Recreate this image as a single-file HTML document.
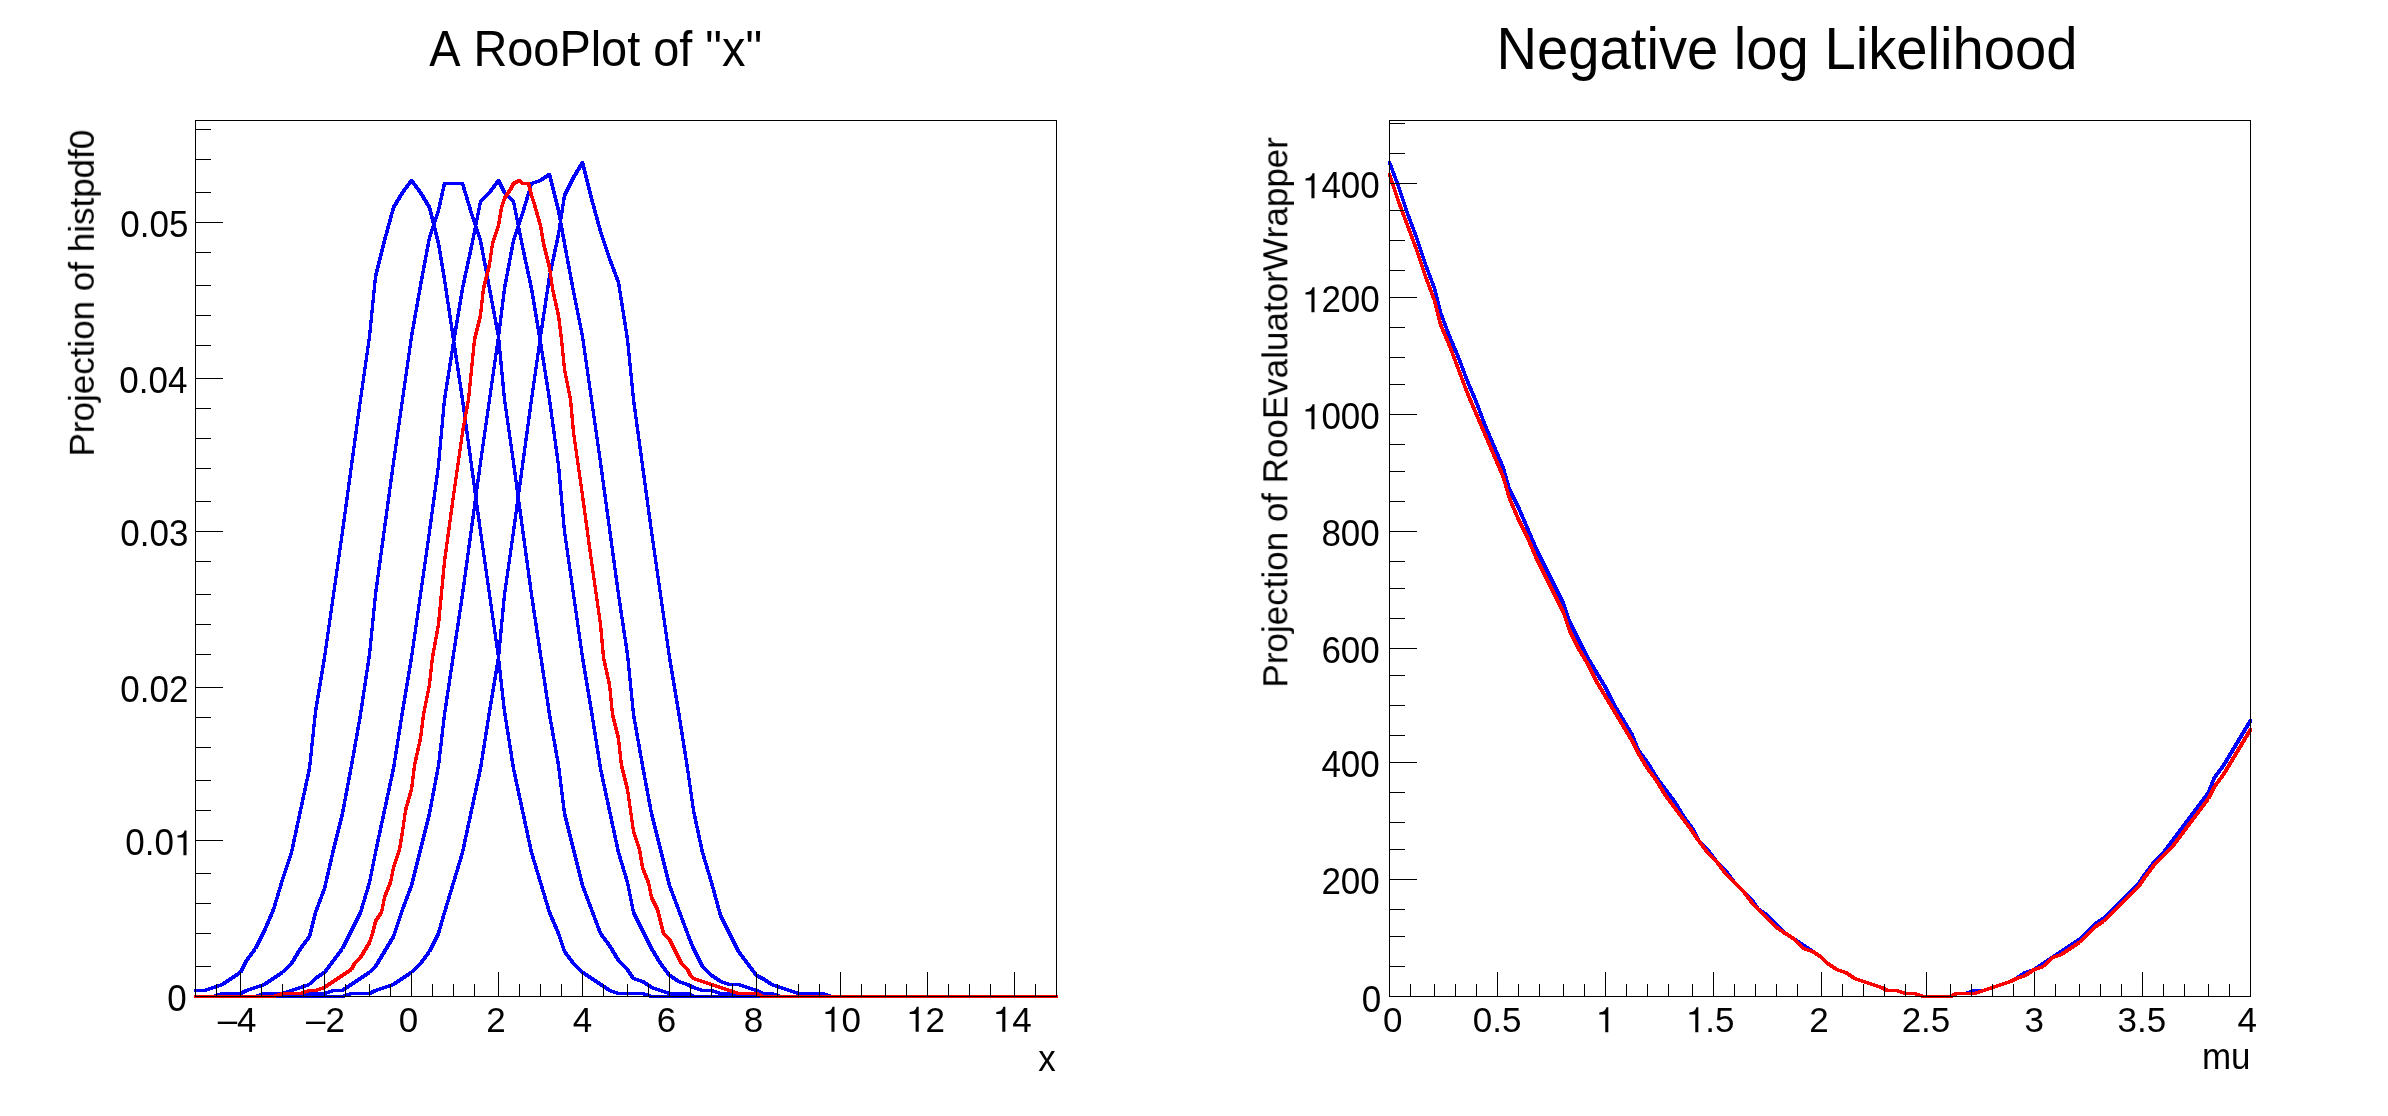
<!DOCTYPE html>
<html><head><meta charset="utf-8"><title>rf616_morphing</title>
<style>html,body{margin:0;padding:0;background:#fff}body{width:2388px;height:1116px;overflow:hidden}svg{display:block}</style>
</head><body>
<svg width="2388" height="1116" viewBox="0 0 2388 1116">
<rect width="2388" height="1116" fill="#fff"/>
<defs><clipPath id="c1"><rect x="194" y="120" width="864" height="878"/></clipPath><clipPath id="c2"><rect x="1388" y="120" width="864" height="878"/></clipPath></defs>
<g clip-path="url(#c1)" fill="none" stroke="#0000ff"><defs><polyline id="p1" points="195.5,990.5 204.5,990.5 213.5,987.5 222.5,984.5 231.5,978.5 240.5,972.5 246.5,960.5 255.5,948.5 264.5,930.5 273.5,909.5 282.5,879.5 291.5,852.5 300.5,810.5 309.5,768.5 315.5,711.5 324.5,657.5 333.5,594.5 342.5,531.5 351.5,465.5 360.5,399.5 369.5,336.5 375.5,276.5 384.5,240.5 393.5,207.5 402.5,192.5 411.5,180.5 420.5,192.5 429.5,207.5 438.5,243.5 444.5,279.5 453.5,339.5 462.5,399.5 471.5,465.5 480.5,531.5 489.5,594.5 498.5,657.5 504.5,711.5 513.5,768.5 522.5,810.5 531.5,852.5 540.5,882.5 549.5,912.5 558.5,933.5 564.5,951.5 573.5,963.5 582.5,972.5 591.5,978.5 600.5,984.5 609.5,990.5 618.5,993.5 627.5,993.5 633.5,993.5 642.5,993.5 651.5,996.5 660.5,996.5 669.5,996.5 678.5,996.5 687.5,996.5 693.5,996.5 702.5,996.5 711.5,996.5 720.5,996.5 729.5,996.5 738.5,996.5 747.5,996.5 756.5,996.5 762.5,996.5 771.5,996.5 780.5,996.5 789.5,996.5 798.5,996.5 807.5,996.5 816.5,996.5 822.5,996.5 831.5,996.5 840.5,996.5 849.5,996.5 858.5,996.5 867.5,996.5 876.5,996.5 885.5,996.5 891.5,996.5 900.5,996.5 909.5,996.5 918.5,996.5 927.5,996.5 936.5,996.5 945.5,996.5 951.5,996.5 960.5,996.5 969.5,996.5 978.5,996.5 987.5,996.5 996.5,996.5 1005.5,996.5 1014.5,996.5 1020.5,996.5 1029.5,996.5 1038.5,996.5 1047.5,996.5 1056.5,996.5"/></defs><g stroke-width="1.1" stroke-linejoin="bevel" stroke-linecap="square" shape-rendering="crispEdges"><use href="#p1" x="-1" y="-1"/><use href="#p1" x="-1" y="0"/><use href="#p1" x="-1" y="1"/><use href="#p1" x="0" y="-1"/><use href="#p1" x="0" y="0"/><use href="#p1" x="0" y="1"/><use href="#p1" x="1" y="-1"/><use href="#p1" x="1" y="0"/><use href="#p1" x="1" y="1"/></g><use href="#p1" stroke-width="1.8" stroke-linejoin="round" shape-rendering="geometricPrecision"/></g>
<g clip-path="url(#c1)" fill="none" stroke="#0000ff"><defs><polyline id="p2" points="195.5,996.5 204.5,996.5 213.5,996.5 222.5,993.5 231.5,993.5 240.5,993.5 246.5,990.5 255.5,987.5 264.5,984.5 273.5,978.5 282.5,972.5 291.5,963.5 300.5,948.5 309.5,936.5 315.5,912.5 324.5,888.5 333.5,849.5 342.5,813.5 351.5,765.5 360.5,714.5 369.5,654.5 375.5,594.5 384.5,528.5 393.5,462.5 402.5,399.5 411.5,336.5 420.5,285.5 429.5,237.5 438.5,210.5 444.5,183.5 453.5,183.5 462.5,183.5 471.5,213.5 480.5,240.5 489.5,288.5 498.5,336.5 504.5,399.5 513.5,462.5 522.5,528.5 531.5,594.5 540.5,654.5 549.5,714.5 558.5,765.5 564.5,813.5 573.5,849.5 582.5,885.5 591.5,909.5 600.5,933.5 609.5,945.5 618.5,960.5 627.5,969.5 633.5,978.5 642.5,981.5 651.5,987.5 660.5,990.5 669.5,993.5 678.5,993.5 687.5,993.5 693.5,996.5 702.5,996.5 711.5,996.5 720.5,996.5 729.5,996.5 738.5,996.5 747.5,996.5 756.5,996.5 762.5,996.5 771.5,996.5 780.5,996.5 789.5,996.5 798.5,996.5 807.5,996.5 816.5,996.5 822.5,996.5 831.5,996.5 840.5,996.5 849.5,996.5 858.5,996.5 867.5,996.5 876.5,996.5 885.5,996.5 891.5,996.5 900.5,996.5 909.5,996.5 918.5,996.5 927.5,996.5 936.5,996.5 945.5,996.5 951.5,996.5 960.5,996.5 969.5,996.5 978.5,996.5 987.5,996.5 996.5,996.5 1005.5,996.5 1014.5,996.5 1020.5,996.5 1029.5,996.5 1038.5,996.5 1047.5,996.5 1056.5,996.5"/></defs><g stroke-width="1.1" stroke-linejoin="bevel" stroke-linecap="square" shape-rendering="crispEdges"><use href="#p2" x="-1" y="-1"/><use href="#p2" x="-1" y="0"/><use href="#p2" x="-1" y="1"/><use href="#p2" x="0" y="-1"/><use href="#p2" x="0" y="0"/><use href="#p2" x="0" y="1"/><use href="#p2" x="1" y="-1"/><use href="#p2" x="1" y="0"/><use href="#p2" x="1" y="1"/></g><use href="#p2" stroke-width="1.8" stroke-linejoin="round" shape-rendering="geometricPrecision"/></g>
<g clip-path="url(#c1)" fill="none" stroke="#0000ff"><defs><polyline id="p3" points="195.5,996.5 204.5,996.5 213.5,996.5 222.5,996.5 231.5,996.5 240.5,996.5 246.5,996.5 255.5,996.5 264.5,993.5 273.5,993.5 282.5,993.5 291.5,990.5 300.5,987.5 309.5,984.5 315.5,978.5 324.5,972.5 333.5,960.5 342.5,948.5 351.5,930.5 360.5,912.5 369.5,882.5 375.5,852.5 384.5,810.5 393.5,768.5 402.5,711.5 411.5,657.5 420.5,594.5 429.5,531.5 438.5,465.5 444.5,399.5 453.5,342.5 462.5,288.5 471.5,246.5 480.5,201.5 489.5,192.5 498.5,180.5 504.5,192.5 513.5,201.5 522.5,246.5 531.5,288.5 540.5,342.5 549.5,399.5 558.5,465.5 564.5,531.5 573.5,594.5 582.5,657.5 591.5,711.5 600.5,768.5 609.5,810.5 618.5,852.5 627.5,882.5 633.5,912.5 642.5,930.5 651.5,948.5 660.5,963.5 669.5,975.5 678.5,981.5 687.5,984.5 693.5,987.5 702.5,990.5 711.5,990.5 720.5,993.5 729.5,993.5 738.5,996.5 747.5,996.5 756.5,996.5 762.5,996.5 771.5,996.5 780.5,996.5 789.5,996.5 798.5,996.5 807.5,996.5 816.5,996.5 822.5,996.5 831.5,996.5 840.5,996.5 849.5,996.5 858.5,996.5 867.5,996.5 876.5,996.5 885.5,996.5 891.5,996.5 900.5,996.5 909.5,996.5 918.5,996.5 927.5,996.5 936.5,996.5 945.5,996.5 951.5,996.5 960.5,996.5 969.5,996.5 978.5,996.5 987.5,996.5 996.5,996.5 1005.5,996.5 1014.5,996.5 1020.5,996.5 1029.5,996.5 1038.5,996.5 1047.5,996.5 1056.5,996.5"/></defs><g stroke-width="1.1" stroke-linejoin="bevel" stroke-linecap="square" shape-rendering="crispEdges"><use href="#p3" x="-1" y="-1"/><use href="#p3" x="-1" y="0"/><use href="#p3" x="-1" y="1"/><use href="#p3" x="0" y="-1"/><use href="#p3" x="0" y="0"/><use href="#p3" x="0" y="1"/><use href="#p3" x="1" y="-1"/><use href="#p3" x="1" y="0"/><use href="#p3" x="1" y="1"/></g><use href="#p3" stroke-width="1.8" stroke-linejoin="round" shape-rendering="geometricPrecision"/></g>
<g clip-path="url(#c1)" fill="none" stroke="#0000ff"><defs><polyline id="p4" points="195.5,996.5 204.5,996.5 213.5,996.5 222.5,996.5 231.5,996.5 240.5,996.5 246.5,996.5 255.5,996.5 264.5,996.5 273.5,996.5 282.5,996.5 291.5,996.5 300.5,996.5 309.5,993.5 315.5,993.5 324.5,993.5 333.5,990.5 342.5,990.5 351.5,984.5 360.5,978.5 369.5,972.5 375.5,966.5 384.5,951.5 393.5,936.5 402.5,909.5 411.5,885.5 420.5,849.5 429.5,813.5 438.5,765.5 444.5,714.5 453.5,654.5 462.5,594.5 471.5,528.5 480.5,462.5 489.5,399.5 498.5,336.5 504.5,288.5 513.5,240.5 522.5,213.5 531.5,183.5 540.5,180.5 549.5,174.5 558.5,210.5 564.5,243.5 573.5,291.5 582.5,336.5 591.5,399.5 600.5,462.5 609.5,528.5 618.5,594.5 627.5,654.5 633.5,714.5 642.5,765.5 651.5,813.5 660.5,849.5 669.5,885.5 678.5,909.5 687.5,933.5 693.5,948.5 702.5,966.5 711.5,975.5 720.5,981.5 729.5,984.5 738.5,984.5 747.5,987.5 756.5,990.5 762.5,993.5 771.5,993.5 780.5,996.5 789.5,996.5 798.5,996.5 807.5,996.5 816.5,996.5 822.5,996.5 831.5,996.5 840.5,996.5 849.5,996.5 858.5,996.5 867.5,996.5 876.5,996.5 885.5,996.5 891.5,996.5 900.5,996.5 909.5,996.5 918.5,996.5 927.5,996.5 936.5,996.5 945.5,996.5 951.5,996.5 960.5,996.5 969.5,996.5 978.5,996.5 987.5,996.5 996.5,996.5 1005.5,996.5 1014.5,996.5 1020.5,996.5 1029.5,996.5 1038.5,996.5 1047.5,996.5 1056.5,996.5"/></defs><g stroke-width="1.1" stroke-linejoin="bevel" stroke-linecap="square" shape-rendering="crispEdges"><use href="#p4" x="-1" y="-1"/><use href="#p4" x="-1" y="0"/><use href="#p4" x="-1" y="1"/><use href="#p4" x="0" y="-1"/><use href="#p4" x="0" y="0"/><use href="#p4" x="0" y="1"/><use href="#p4" x="1" y="-1"/><use href="#p4" x="1" y="0"/><use href="#p4" x="1" y="1"/></g><use href="#p4" stroke-width="1.8" stroke-linejoin="round" shape-rendering="geometricPrecision"/></g>
<g clip-path="url(#c1)" fill="none" stroke="#0000ff"><defs><polyline id="p5" points="195.5,996.5 204.5,996.5 213.5,996.5 222.5,996.5 231.5,996.5 240.5,996.5 246.5,996.5 255.5,996.5 264.5,996.5 273.5,996.5 282.5,996.5 291.5,996.5 300.5,996.5 309.5,996.5 315.5,996.5 324.5,996.5 333.5,996.5 342.5,996.5 351.5,993.5 360.5,993.5 369.5,993.5 375.5,990.5 384.5,987.5 393.5,984.5 402.5,978.5 411.5,972.5 420.5,963.5 429.5,951.5 438.5,933.5 444.5,912.5 453.5,882.5 462.5,852.5 471.5,810.5 480.5,768.5 489.5,711.5 498.5,657.5 504.5,594.5 513.5,531.5 522.5,465.5 531.5,399.5 540.5,336.5 549.5,276.5 558.5,234.5 564.5,195.5 573.5,177.5 582.5,162.5 591.5,198.5 600.5,231.5 609.5,258.5 618.5,282.5 627.5,339.5 633.5,399.5 642.5,465.5 651.5,531.5 660.5,594.5 669.5,657.5 678.5,711.5 687.5,768.5 693.5,810.5 702.5,852.5 711.5,882.5 720.5,915.5 729.5,933.5 738.5,951.5 747.5,963.5 756.5,975.5 762.5,978.5 771.5,984.5 780.5,987.5 789.5,990.5 798.5,993.5 807.5,993.5 816.5,993.5 822.5,993.5 831.5,996.5 840.5,996.5 849.5,996.5 858.5,996.5 867.5,996.5 876.5,996.5 885.5,996.5 891.5,996.5 900.5,996.5 909.5,996.5 918.5,996.5 927.5,996.5 936.5,996.5 945.5,996.5 951.5,996.5 960.5,996.5 969.5,996.5 978.5,996.5 987.5,996.5 996.5,996.5 1005.5,996.5 1014.5,996.5 1020.5,996.5 1029.5,996.5 1038.5,996.5 1047.5,996.5 1056.5,996.5"/></defs><g stroke-width="1.1" stroke-linejoin="bevel" stroke-linecap="square" shape-rendering="crispEdges"><use href="#p5" x="-1" y="-1"/><use href="#p5" x="-1" y="0"/><use href="#p5" x="-1" y="1"/><use href="#p5" x="0" y="-1"/><use href="#p5" x="0" y="0"/><use href="#p5" x="0" y="1"/><use href="#p5" x="1" y="-1"/><use href="#p5" x="1" y="0"/><use href="#p5" x="1" y="1"/></g><use href="#p5" stroke-width="1.8" stroke-linejoin="round" shape-rendering="geometricPrecision"/></g>
<g clip-path="url(#c1)" fill="none" stroke="#ff0000"><defs><polyline id="p6" points="195.5,996.5 204.5,996.5 213.5,996.5 222.5,996.5 231.5,996.5 240.5,996.5 246.5,996.5 255.5,996.5 264.5,996.5 273.5,996.5 282.5,993.5 291.5,993.5 300.5,993.5 309.5,990.5 315.5,990.5 324.5,987.5 333.5,981.5 342.5,975.5 351.5,969.5 354.5,963.5 360.5,957.5 369.5,942.5 372.5,933.5 375.5,921.5 381.5,912.5 384.5,897.5 390.5,882.5 393.5,867.5 399.5,849.5 402.5,831.5 405.5,810.5 411.5,789.5 414.5,765.5 420.5,738.5 423.5,714.5 429.5,684.5 432.5,657.5 438.5,624.5 444.5,561.5 453.5,495.5 462.5,432.5 468.5,399.5 471.5,369.5 474.5,339.5 480.5,315.5 483.5,288.5 489.5,264.5 492.5,243.5 498.5,225.5 501.5,207.5 504.5,198.5 510.5,189.5 513.5,183.5 519.5,180.5 522.5,183.5 528.5,183.5 531.5,195.5 534.5,204.5 540.5,225.5 543.5,243.5 549.5,267.5 552.5,288.5 558.5,315.5 561.5,339.5 564.5,369.5 570.5,399.5 573.5,432.5 582.5,495.5 591.5,561.5 600.5,624.5 603.5,657.5 609.5,684.5 612.5,714.5 618.5,738.5 621.5,765.5 627.5,789.5 630.5,810.5 633.5,831.5 639.5,849.5 642.5,867.5 648.5,882.5 651.5,897.5 657.5,909.5 660.5,921.5 663.5,933.5 669.5,939.5 678.5,957.5 681.5,963.5 687.5,969.5 690.5,975.5 693.5,978.5 702.5,981.5 711.5,984.5 720.5,987.5 729.5,990.5 738.5,993.5 747.5,993.5 756.5,993.5 762.5,996.5 771.5,996.5 780.5,996.5 789.5,996.5 798.5,996.5 807.5,996.5 816.5,996.5 822.5,996.5 831.5,996.5 840.5,996.5 849.5,996.5 858.5,996.5 867.5,996.5 876.5,996.5 885.5,996.5 891.5,996.5 900.5,996.5 909.5,996.5 918.5,996.5 927.5,996.5 936.5,996.5 945.5,996.5 951.5,996.5 960.5,996.5 969.5,996.5 978.5,996.5 987.5,996.5 996.5,996.5 1005.5,996.5 1014.5,996.5 1020.5,996.5 1029.5,996.5 1038.5,996.5 1047.5,996.5 1056.5,996.5"/></defs><g stroke-width="1.1" stroke-linejoin="bevel" stroke-linecap="square" shape-rendering="crispEdges"><use href="#p6" x="-1" y="-1"/><use href="#p6" x="-1" y="0"/><use href="#p6" x="-1" y="1"/><use href="#p6" x="0" y="-1"/><use href="#p6" x="0" y="0"/><use href="#p6" x="0" y="1"/><use href="#p6" x="1" y="-1"/><use href="#p6" x="1" y="0"/><use href="#p6" x="1" y="1"/></g><use href="#p6" stroke-width="1.8" stroke-linejoin="round" shape-rendering="geometricPrecision"/></g>
<g clip-path="url(#c2)" fill="none" stroke="#0000ff"><defs><polyline id="p7" points="1389.5,162.5 1398.5,186.5 1407.5,213.5 1416.5,237.5 1425.5,264.5 1434.5,288.5 1440.5,312.5 1449.5,336.5 1458.5,357.5 1467.5,381.5 1476.5,402.5 1485.5,426.5 1494.5,447.5 1503.5,468.5 1509.5,489.5 1518.5,507.5 1527.5,528.5 1536.5,549.5 1545.5,567.5 1554.5,585.5 1563.5,603.5 1569.5,621.5 1578.5,639.5 1587.5,657.5 1596.5,672.5 1605.5,687.5 1614.5,705.5 1623.5,720.5 1632.5,735.5 1638.5,750.5 1647.5,762.5 1656.5,777.5 1665.5,789.5 1674.5,801.5 1683.5,816.5 1692.5,828.5 1698.5,840.5 1707.5,849.5 1716.5,861.5 1725.5,870.5 1734.5,882.5 1743.5,891.5 1752.5,900.5 1758.5,909.5 1767.5,915.5 1776.5,924.5 1785.5,933.5 1794.5,939.5 1803.5,945.5 1812.5,951.5 1821.5,957.5 1827.5,963.5 1836.5,969.5 1845.5,972.5 1854.5,978.5 1863.5,981.5 1872.5,984.5 1881.5,987.5 1887.5,990.5 1896.5,990.5 1905.5,993.5 1914.5,993.5 1923.5,996.5 1932.5,996.5 1941.5,996.5 1950.5,996.5 1956.5,993.5 1965.5,993.5 1974.5,990.5 1983.5,990.5 1992.5,987.5 2001.5,984.5 2010.5,981.5 2016.5,978.5 2025.5,972.5 2034.5,969.5 2043.5,963.5 2052.5,957.5 2061.5,951.5 2070.5,945.5 2079.5,939.5 2085.5,933.5 2094.5,924.5 2103.5,918.5 2112.5,909.5 2121.5,900.5 2130.5,891.5 2139.5,882.5 2145.5,873.5 2154.5,861.5 2163.5,852.5 2172.5,840.5 2181.5,828.5 2190.5,816.5 2199.5,804.5 2208.5,792.5 2214.5,777.5 2223.5,765.5 2232.5,750.5 2241.5,735.5 2250.5,720.5"/></defs><g stroke-width="1.1" stroke-linejoin="bevel" stroke-linecap="square" shape-rendering="crispEdges"><use href="#p7" x="-1" y="-1"/><use href="#p7" x="-1" y="0"/><use href="#p7" x="-1" y="1"/><use href="#p7" x="0" y="-1"/><use href="#p7" x="0" y="0"/><use href="#p7" x="0" y="1"/><use href="#p7" x="1" y="-1"/><use href="#p7" x="1" y="0"/><use href="#p7" x="1" y="1"/></g><use href="#p7" stroke-width="1.8" stroke-linejoin="round" shape-rendering="geometricPrecision"/></g>
<g clip-path="url(#c2)" fill="none" stroke="#ff0000"><defs><polyline id="p8" points="1389.5,174.5 1398.5,201.5 1407.5,225.5 1416.5,249.5 1425.5,276.5 1434.5,300.5 1440.5,324.5 1449.5,345.5 1458.5,369.5 1467.5,393.5 1476.5,414.5 1485.5,435.5 1494.5,456.5 1503.5,477.5 1509.5,498.5 1518.5,519.5 1527.5,537.5 1536.5,558.5 1545.5,576.5 1554.5,594.5 1563.5,612.5 1569.5,630.5 1578.5,648.5 1587.5,663.5 1596.5,681.5 1605.5,696.5 1614.5,711.5 1623.5,726.5 1632.5,741.5 1638.5,753.5 1647.5,768.5 1656.5,780.5 1665.5,795.5 1674.5,807.5 1683.5,819.5 1692.5,831.5 1698.5,840.5 1707.5,852.5 1716.5,861.5 1725.5,873.5 1734.5,882.5 1743.5,891.5 1752.5,903.5 1758.5,909.5 1767.5,918.5 1776.5,927.5 1785.5,933.5 1794.5,939.5 1803.5,948.5 1812.5,951.5 1821.5,957.5 1827.5,963.5 1836.5,969.5 1845.5,972.5 1854.5,978.5 1863.5,981.5 1872.5,984.5 1881.5,987.5 1887.5,990.5 1896.5,990.5 1905.5,993.5 1914.5,993.5 1923.5,996.5 1932.5,996.5 1941.5,996.5 1950.5,996.5 1956.5,993.5 1965.5,993.5 1974.5,993.5 1983.5,990.5 1992.5,987.5 2001.5,984.5 2010.5,981.5 2016.5,978.5 2025.5,975.5 2034.5,969.5 2043.5,966.5 2052.5,957.5 2061.5,954.5 2070.5,948.5 2079.5,942.5 2085.5,936.5 2094.5,927.5 2103.5,921.5 2112.5,912.5 2121.5,903.5 2130.5,894.5 2139.5,885.5 2145.5,876.5 2154.5,864.5 2163.5,855.5 2172.5,846.5 2181.5,834.5 2190.5,822.5 2199.5,810.5 2208.5,798.5 2214.5,786.5 2223.5,774.5 2232.5,759.5 2241.5,744.5 2250.5,729.5"/></defs><g stroke-width="1.1" stroke-linejoin="bevel" stroke-linecap="square" shape-rendering="crispEdges"><use href="#p8" x="-1" y="-1"/><use href="#p8" x="-1" y="0"/><use href="#p8" x="-1" y="1"/><use href="#p8" x="0" y="-1"/><use href="#p8" x="0" y="0"/><use href="#p8" x="0" y="1"/><use href="#p8" x="1" y="-1"/><use href="#p8" x="1" y="0"/><use href="#p8" x="1" y="1"/></g><use href="#p8" stroke-width="1.8" stroke-linejoin="round" shape-rendering="geometricPrecision"/></g>
<g fill="#000" shape-rendering="crispEdges">
<rect x="195" y="120" width="862" height="1"/>
<rect x="195" y="996" width="862" height="1"/>
<rect x="195" y="120" width="1" height="877"/>
<rect x="1056" y="120" width="1" height="877"/>
<rect x="1389" y="120" width="862" height="1"/>
<rect x="1389" y="996" width="862" height="1"/>
<rect x="1389" y="120" width="1" height="877"/>
<rect x="2250" y="120" width="1" height="877"/>
<rect x="216" y="984" width="1" height="12"/>
<rect x="240" y="972" width="1" height="24"/>
<rect x="261" y="984" width="1" height="12"/>
<rect x="282" y="984" width="1" height="12"/>
<rect x="303" y="984" width="1" height="12"/>
<rect x="324" y="972" width="1" height="24"/>
<rect x="345" y="984" width="1" height="12"/>
<rect x="369" y="984" width="1" height="12"/>
<rect x="390" y="984" width="1" height="12"/>
<rect x="411" y="972" width="1" height="24"/>
<rect x="432" y="984" width="1" height="12"/>
<rect x="453" y="984" width="1" height="12"/>
<rect x="474" y="984" width="1" height="12"/>
<rect x="498" y="972" width="1" height="24"/>
<rect x="519" y="984" width="1" height="12"/>
<rect x="540" y="984" width="1" height="12"/>
<rect x="561" y="984" width="1" height="12"/>
<rect x="582" y="972" width="1" height="24"/>
<rect x="603" y="984" width="1" height="12"/>
<rect x="627" y="984" width="1" height="12"/>
<rect x="648" y="984" width="1" height="12"/>
<rect x="669" y="972" width="1" height="24"/>
<rect x="690" y="984" width="1" height="12"/>
<rect x="711" y="984" width="1" height="12"/>
<rect x="732" y="984" width="1" height="12"/>
<rect x="756" y="972" width="1" height="24"/>
<rect x="777" y="984" width="1" height="12"/>
<rect x="798" y="984" width="1" height="12"/>
<rect x="819" y="984" width="1" height="12"/>
<rect x="840" y="972" width="1" height="24"/>
<rect x="861" y="984" width="1" height="12"/>
<rect x="885" y="984" width="1" height="12"/>
<rect x="906" y="984" width="1" height="12"/>
<rect x="927" y="972" width="1" height="24"/>
<rect x="948" y="984" width="1" height="12"/>
<rect x="969" y="984" width="1" height="12"/>
<rect x="990" y="984" width="1" height="12"/>
<rect x="1014" y="972" width="1" height="24"/>
<rect x="1035" y="984" width="1" height="12"/>
<rect x="195" y="966" width="16" height="1"/>
<rect x="195" y="933" width="16" height="1"/>
<rect x="195" y="903" width="16" height="1"/>
<rect x="195" y="873" width="16" height="1"/>
<rect x="195" y="840" width="28" height="1"/>
<rect x="195" y="810" width="16" height="1"/>
<rect x="195" y="780" width="16" height="1"/>
<rect x="195" y="747" width="16" height="1"/>
<rect x="195" y="717" width="16" height="1"/>
<rect x="195" y="687" width="28" height="1"/>
<rect x="195" y="654" width="16" height="1"/>
<rect x="195" y="624" width="16" height="1"/>
<rect x="195" y="594" width="16" height="1"/>
<rect x="195" y="561" width="16" height="1"/>
<rect x="195" y="531" width="28" height="1"/>
<rect x="195" y="501" width="16" height="1"/>
<rect x="195" y="468" width="16" height="1"/>
<rect x="195" y="438" width="16" height="1"/>
<rect x="195" y="408" width="16" height="1"/>
<rect x="195" y="378" width="28" height="1"/>
<rect x="195" y="345" width="16" height="1"/>
<rect x="195" y="315" width="16" height="1"/>
<rect x="195" y="285" width="16" height="1"/>
<rect x="195" y="252" width="16" height="1"/>
<rect x="195" y="222" width="28" height="1"/>
<rect x="195" y="192" width="16" height="1"/>
<rect x="195" y="159" width="16" height="1"/>
<rect x="195" y="129" width="16" height="1"/>
<rect x="1410" y="984" width="1" height="12"/>
<rect x="1434" y="984" width="1" height="12"/>
<rect x="1455" y="984" width="1" height="12"/>
<rect x="1476" y="984" width="1" height="12"/>
<rect x="1497" y="972" width="1" height="24"/>
<rect x="1518" y="984" width="1" height="12"/>
<rect x="1539" y="984" width="1" height="12"/>
<rect x="1563" y="984" width="1" height="12"/>
<rect x="1584" y="984" width="1" height="12"/>
<rect x="1605" y="972" width="1" height="24"/>
<rect x="1626" y="984" width="1" height="12"/>
<rect x="1647" y="984" width="1" height="12"/>
<rect x="1668" y="984" width="1" height="12"/>
<rect x="1692" y="984" width="1" height="12"/>
<rect x="1713" y="972" width="1" height="24"/>
<rect x="1734" y="984" width="1" height="12"/>
<rect x="1755" y="984" width="1" height="12"/>
<rect x="1776" y="984" width="1" height="12"/>
<rect x="1797" y="984" width="1" height="12"/>
<rect x="1821" y="972" width="1" height="24"/>
<rect x="1842" y="984" width="1" height="12"/>
<rect x="1863" y="984" width="1" height="12"/>
<rect x="1884" y="984" width="1" height="12"/>
<rect x="1905" y="984" width="1" height="12"/>
<rect x="1926" y="972" width="1" height="24"/>
<rect x="1950" y="984" width="1" height="12"/>
<rect x="1971" y="984" width="1" height="12"/>
<rect x="1992" y="984" width="1" height="12"/>
<rect x="2013" y="984" width="1" height="12"/>
<rect x="2034" y="972" width="1" height="24"/>
<rect x="2055" y="984" width="1" height="12"/>
<rect x="2079" y="984" width="1" height="12"/>
<rect x="2100" y="984" width="1" height="12"/>
<rect x="2121" y="984" width="1" height="12"/>
<rect x="2142" y="972" width="1" height="24"/>
<rect x="2163" y="984" width="1" height="12"/>
<rect x="2184" y="984" width="1" height="12"/>
<rect x="2208" y="984" width="1" height="12"/>
<rect x="2229" y="984" width="1" height="12"/>
<rect x="1389" y="966" width="16" height="1"/>
<rect x="1389" y="936" width="16" height="1"/>
<rect x="1389" y="909" width="16" height="1"/>
<rect x="1389" y="879" width="28" height="1"/>
<rect x="1389" y="849" width="16" height="1"/>
<rect x="1389" y="822" width="16" height="1"/>
<rect x="1389" y="792" width="16" height="1"/>
<rect x="1389" y="762" width="28" height="1"/>
<rect x="1389" y="735" width="16" height="1"/>
<rect x="1389" y="705" width="16" height="1"/>
<rect x="1389" y="675" width="16" height="1"/>
<rect x="1389" y="648" width="28" height="1"/>
<rect x="1389" y="618" width="16" height="1"/>
<rect x="1389" y="588" width="16" height="1"/>
<rect x="1389" y="561" width="16" height="1"/>
<rect x="1389" y="531" width="28" height="1"/>
<rect x="1389" y="501" width="16" height="1"/>
<rect x="1389" y="471" width="16" height="1"/>
<rect x="1389" y="444" width="16" height="1"/>
<rect x="1389" y="414" width="28" height="1"/>
<rect x="1389" y="384" width="16" height="1"/>
<rect x="1389" y="357" width="16" height="1"/>
<rect x="1389" y="327" width="16" height="1"/>
<rect x="1389" y="297" width="28" height="1"/>
<rect x="1389" y="270" width="16" height="1"/>
<rect x="1389" y="240" width="16" height="1"/>
<rect x="1389" y="210" width="16" height="1"/>
<rect x="1389" y="183" width="28" height="1"/>
<rect x="1389" y="153" width="16" height="1"/>
<rect x="1389" y="123" width="16" height="1"/>
</g>
<g font-family="Liberation Sans, sans-serif" fill="#000" opacity="0.999" style="font-kerning:none">
<text transform="translate(217.63,1031.7) scale(1,1.01)" font-size="35" xml:space="preserve">–4</text>
<text transform="translate(305.93,1031.7) scale(1,1.01)" font-size="35" xml:space="preserve">–2</text>
<text transform="translate(398.87,1031.7) scale(1,1.01)" font-size="35" xml:space="preserve">0</text>
<text transform="translate(486.27,1031.7) scale(1,1.01)" font-size="35" xml:space="preserve">2</text>
<text transform="translate(572.77,1031.7) scale(1,1.01)" font-size="35" xml:space="preserve">4</text>
<text transform="translate(656.77,1031.7) scale(1,1.01)" font-size="35" xml:space="preserve">6</text>
<text transform="translate(743.77,1031.7) scale(1,1.01)" font-size="35" xml:space="preserve">8</text>
<text transform="translate(821.93,1031.7) scale(1,1.01)" font-size="35" xml:space="preserve"> 0</text>
<path d="M831.42 1031.70L834.50 1031.70L834.50 1006.82L832.50 1006.82C832.01 1008.78 830.96 1010.28 829.46 1011.05C828.41 1011.58 827.11 1011.82 825.47 1011.89L825.47 1014.03L831.42 1014.03Z"/>
<text transform="translate(906.13,1031.7) scale(1,1.01)" font-size="35" xml:space="preserve"> 2</text>
<path d="M915.62 1031.70L918.70 1031.70L918.70 1006.82L916.70 1006.82C916.21 1008.78 915.16 1010.28 913.66 1011.05C912.61 1011.58 911.31 1011.82 909.67 1011.89L909.67 1014.03L915.62 1014.03Z"/>
<text transform="translate(992.78,1031.7) scale(1,1.01)" font-size="35" xml:space="preserve"> 4</text>
<path d="M1002.27 1031.70L1005.35 1031.70L1005.35 1006.82L1003.35 1006.82C1002.86 1008.78 1001.81 1010.28 1000.31 1011.05C999.26 1011.58 997.96 1011.82 996.32 1011.89L996.32 1014.03L1002.27 1014.03Z"/>
<text transform="translate(167.13,1011.3) scale(1,1.035)" font-size="35" xml:space="preserve">0</text>
<text transform="translate(125.28,855.3) scale(1,1.035)" font-size="35" xml:space="preserve">0.0 </text>
<path d="M183.42 855.30L186.50 855.30L186.50 830.41L184.50 830.41C184.01 832.38 182.96 833.88 181.46 834.65C180.41 835.17 179.11 835.42 177.47 835.49L177.47 837.62L183.42 837.62Z"/>
<text transform="translate(120.28,702.3) scale(1,1.035)" font-size="35" xml:space="preserve">0.02</text>
<text transform="translate(120.28,546.3) scale(1,1.035)" font-size="35" xml:space="preserve">0.03</text>
<text transform="translate(119.28,393.3) scale(1,1.035)" font-size="35" xml:space="preserve">0.04</text>
<text transform="translate(120.28,237.3) scale(1,1.035)" font-size="35" xml:space="preserve">0.05</text>
<text transform="translate(1382.97,1032.2) scale(1,1.01)" font-size="35" xml:space="preserve">0</text>
<text transform="translate(1472.77,1032.2) scale(1,1.01)" font-size="35" xml:space="preserve">0.5</text>
<text transform="translate(1595.77,1032.2) scale(1,1.01)" font-size="35" xml:space="preserve"> </text>
<path d="M1605.25 1032.20L1608.33 1032.20L1608.33 1007.32L1606.34 1007.32C1605.85 1009.28 1604.80 1010.78 1603.29 1011.55C1602.24 1012.08 1600.95 1012.32 1599.30 1012.39L1599.30 1014.53L1605.25 1014.53Z"/>
<text transform="translate(1685.77,1032.2) scale(1,1.01)" font-size="35" xml:space="preserve"> .5</text>
<path d="M1695.26 1032.20L1698.34 1032.20L1698.34 1007.32L1696.34 1007.32C1695.85 1009.28 1694.80 1010.78 1693.30 1011.55C1692.25 1012.08 1690.95 1012.32 1689.31 1012.39L1689.31 1014.53L1695.26 1014.53Z"/>
<text transform="translate(1809.17,1032.2) scale(1,1.01)" font-size="35" xml:space="preserve">2</text>
<text transform="translate(1901.67,1032.2) scale(1,1.01)" font-size="35" xml:space="preserve">2.5</text>
<text transform="translate(2024.52,1032.2) scale(1,1.01)" font-size="35" xml:space="preserve">3</text>
<text transform="translate(2117.57,1032.2) scale(1,1.01)" font-size="35" xml:space="preserve">3.5</text>
<text transform="translate(2237.52,1032.2) scale(1,1.01)" font-size="35" xml:space="preserve">4</text>
<text transform="translate(1361.73,1012.0) scale(1,1.035)" font-size="35" xml:space="preserve">0</text>
<text transform="translate(1321.40,894.2) scale(1,1.035)" font-size="35" xml:space="preserve">200</text>
<text transform="translate(1321.40,777.2) scale(1,1.035)" font-size="35" xml:space="preserve">400</text>
<text transform="translate(1321.40,663.2) scale(1,1.035)" font-size="35" xml:space="preserve">600</text>
<text transform="translate(1321.40,546.2) scale(1,1.035)" font-size="35" xml:space="preserve">800</text>
<text transform="translate(1301.94,429.2) scale(1,1.035)" font-size="35" xml:space="preserve"> 000</text>
<path d="M1311.42 429.20L1314.50 429.20L1314.50 404.31L1312.51 404.31C1312.02 406.27 1310.97 407.78 1309.46 408.55C1308.41 409.07 1307.12 409.32 1305.47 409.39L1305.47 411.52L1311.42 411.52Z"/>
<text transform="translate(1301.94,312.2) scale(1,1.035)" font-size="35" xml:space="preserve"> 200</text>
<path d="M1311.42 312.20L1314.50 312.20L1314.50 287.31L1312.51 287.31C1312.02 289.27 1310.97 290.78 1309.46 291.55C1308.41 292.07 1307.12 292.32 1305.47 292.39L1305.47 294.52L1311.42 294.52Z"/>
<text transform="translate(1301.94,198.2) scale(1,1.035)" font-size="35" xml:space="preserve"> 400</text>
<path d="M1311.42 198.20L1314.50 198.20L1314.50 173.31L1312.51 173.31C1312.02 175.27 1310.97 176.78 1309.46 177.55C1308.41 178.07 1307.12 178.32 1305.47 178.39L1305.47 180.52L1311.42 180.52Z"/>
<text transform="translate(595.6,66) scale(1,1.055)" font-size="46.9" text-anchor="middle" style="font-kerning:none">A RooPlot of "x"</text>
<text transform="translate(1787,69) scale(1,1.04)" font-size="56.2" text-anchor="middle">Negative log Likelihood</text>
<text transform="translate(1055.8,1071) scale(1,1.035)" font-size="35" text-anchor="end">x</text>
<text transform="translate(2250.5,1068.5) scale(1,1.035)" font-size="35" text-anchor="end">mu</text>
<text transform="translate(93.5,129.7) rotate(-90) scale(1,1.02)" font-size="35" text-anchor="end">Projection of histpdf0</text>
<text transform="translate(1287.0,137.1) rotate(-90) scale(1,1.02)" font-size="35" text-anchor="end">Projection of RooEvaluatorWrapper</text>
</g>
</svg>
</body></html>
